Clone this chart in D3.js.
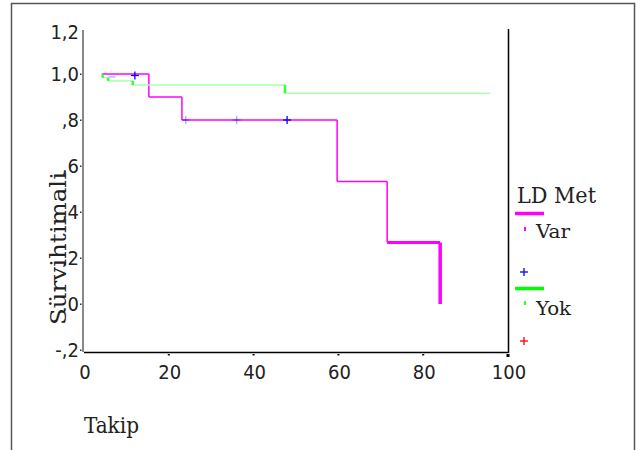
<!DOCTYPE html>
<html>
<head>
<meta charset="utf-8">
<script src="https://cdn.jsdelivr.net/npm/d3@7"></script>
<style>
  body { margin: 0; background: #fff; }
  svg { display: block; }
  .tick-label { font-family: "Liberation Sans Narrow", "DejaVu Sans Condensed", "Liberation Sans", sans-serif; font-size: 20px; fill: #222; }
  .mono { font-family: "DejaVu Serif Condensed", "DejaVu Serif", "Liberation Serif", serif; font-weight: 300; fill: #222; }
</style>
</head>
<body>
<div id="body"></div>
<script>
// data
var xTicks = [0, 20, 40, 60, 80, 100];
var yTicks = [1.2, 1.0, 0.8, 0.6, 0.4, 0.2, 0.0, -0.2];
var yTickLabels = ['1,2', '1,0', ',8', ',6', ',4', ',2', ',0', '-,2'];

// LD Met = Var (steps: time, survival)
var varTimes = [4.2, 15.3, 23.1, 59.7, 71.5, 84.0];
var varSurv = [1.0, 0.9, 0.8, 0.533, 0.267, 0.0];
var varCensor = [12, 24, 36, 47.9];
var varCensorSurv = [1.0, 0.8, 0.8, 0.8];

// LD Met = Yok
var yokTimes = [4.4, 4.4, 5.7, 11.5, 47.4];
var yokSurv = [0.996, 0.984, 0.97, 0.952, 0.916];
var yokEnd = 95.8;
var yokCensor = [6.0];
var yokCensorSurv = [0.996];

var width = 642, height = 450;
var x = d3.scaleLinear().domain([0, 100]).range([84, 508]);
var y = d3.scaleLinear().domain([-0.2, 1.2]).range([350, 28]);

var svg = d3.select('#body').append('svg')
    .attr('width', width)
    .attr('height', height);

// outer frame
svg.append('rect')
    .attr('x', 11.5).attr('y', 3.5)
    .attr('width', 623).attr('height', 460)
    .attr('fill', 'none')
    .attr('stroke', '#555')
    .attr('stroke-width', 1.5);

// y axis
svg.append('line')
    .attr('x1', 83).attr('x2', 83)
    .attr('y1', 30).attr('y2', 352)
    .attr('stroke', '#888').attr('stroke-width', 2);

svg.selectAll('rect.ytick')
    .data(yTicks.slice(1))
    .enter().append('rect')
    .attr('class', 'ytick')
    .attr('x', 80).attr('y', d => y(d) - 0.5)
    .attr('width', 1.5).attr('height', 1.5)
    .attr('fill', '#333');

svg.selectAll('text.ylab')
    .data(yTicks)
    .enter().append('text')
    .attr('class', 'tick-label ylab')
    .attr('x', 79)
    .attr('y', (d, i) => i === 0 ? y(d) + 11 : y(d) + 7)
    .attr('text-anchor', 'end')
    .text((d, i) => yTickLabels[i]);

// x axis
svg.append('line')
    .attr('x1', 84).attr('x2', 508)
    .attr('y1', 352.5).attr('y2', 352.5)
    .attr('stroke', '#000').attr('stroke-width', 1.5);

// right vertical line
svg.append('line')
    .attr('x1', 508.5).attr('x2', 508.5)
    .attr('y1', 29).attr('y2', 353)
    .attr('stroke', '#000').attr('stroke-width', 1.5);

svg.selectAll('rect.xtick')
    .data(xTicks.slice(1))
    .enter().append('rect')
    .attr('class', 'xtick')
    .attr('x', d => x(d) - (d === 100 ? 1.5 : 1))
    .attr('y', 354)
    .attr('width', d => d === 100 ? 3 : 2)
    .attr('height', d => d === 100 ? 3 : 1.5)
    .attr('fill', '#000');

svg.selectAll('text.xlab')
    .data(xTicks)
    .enter().append('text')
    .attr('class', 'tick-label xlab')
    .attr('x', d => x(d) + 1)
    .attr('y', 379)
    .attr('text-anchor', 'middle')
    .text(d => d);

// axis titles
svg.append('text')
    .attr('class', 'mono')
    .attr('x', 84).attr('y', 433)
    .attr('font-size', 22)
    .attr('textLength', 55)
    .attr('lengthAdjust', 'spacingAndGlyphs')
    .text('Takip');

svg.append('text')
    .attr('class', 'mono')
    .attr('transform', 'translate(66,325) rotate(-90)')
    .attr('font-size', 22)
    .attr('textLength', 153)
    .attr('lengthAdjust', 'spacingAndGlyphs')
    .text('Sürvihtimali');

// step curves
function steps(times, surv, end) {
    let h = [], v = [];
    for (let i = 0; i < times.length; i++) {
        let x0 = times[i];
        let x1 = i + 1 < times.length ? times[i + 1] : end;
        if (x1 !== undefined && x1 > x0) h.push({x0: x0, x1: x1, s: surv[i], i: i});
        if (i + 1 < surv.length && i + 1 < times.length) v.push({t: times[i + 1], s0: surv[i], s1: surv[i + 1], i: i});
    }
    return {h: h, v: v};
}

// Var
let varSteps = steps(varTimes, varSurv);
let last = varTimes.length - 1;
svg.selectAll('line.varH')
    .data(varSteps.h)
    .enter().append('line')
    .attr('class', 'varH')
    .attr('x1', d => x(d.x0)).attr('x2', d => x(d.x1))
    .attr('y1', d => y(d.s)).attr('y2', d => y(d.s))
    .attr('stroke', '#ff00ff')
    .attr('stroke-width', d => d.i === last - 1 ? 3 : 1.5);
svg.selectAll('line.varV')
    .data(varSteps.v)
    .enter().append('line')
    .attr('class', 'varV')
    .attr('x1', d => x(d.t)).attr('x2', d => x(d.t))
    .attr('y1', d => y(d.s0)).attr('y2', d => y(d.s1))
    .attr('stroke', '#ff00ff')
    .attr('stroke-width', d => d.i === last - 1 ? 3.5 : 1.5);

// Yok
let yokSteps = steps(yokTimes, yokSurv, yokEnd);
svg.selectAll('line.yokH')
    .data(yokSteps.h)
    .enter().append('line')
    .attr('class', 'yokH')
    .attr('x1', d => x(d.x0)).attr('x2', d => x(d.x1))
    .attr('y1', d => y(d.s)).attr('y2', d => y(d.s))
    .attr('stroke', '#aaffaa')
    .attr('stroke-width', 1.5);
svg.selectAll('line.yokV')
    .data(yokSteps.v)
    .enter().append('line')
    .attr('class', 'yokV')
    .attr('x1', d => x(d.t)).attr('x2', d => x(d.t))
    .attr('y1', d => y(d.s0) - (d.i === 0 ? 1 : 0)).attr('y2', d => y(d.s1))
    .attr('stroke', '#33ff33')
    .attr('stroke-width', 2.5);

// censor marks
function plus(g, cx, cy, color, size, opacity) {
    g.append('line').attr('x1', cx - size).attr('x2', cx + size).attr('y1', cy).attr('y2', cy)
        .attr('stroke', color).attr('stroke-width', 1.3).attr('opacity', opacity);
    g.append('line').attr('x1', cx).attr('x2', cx).attr('y1', cy - size).attr('y2', cy + size)
        .attr('stroke', color).attr('stroke-width', 1.3).attr('opacity', opacity);
}
let cg = svg.append('g');
varCensor.forEach((t, i) => {
    let faint = i === 1 || i === 2;
    plus(cg, x(t), y(varCensorSurv[i]) + (i === 0 ? 1.5 : 0), '#0000ff', 4, faint ? 0.35 : 1);
});
yokCensor.forEach((t, i) => {
    cg.append('line')
        .attr('x1', x(t) - 1).attr('x2', x(t) + 6)
        .attr('y1', y(yokCensorSurv[i]) + 2).attr('y2', y(yokCensorSurv[i]) + 2)
        .attr('stroke', '#aaaaff').attr('stroke-width', 1.3);
});

// legend
let lg = svg.append('g');
lg.append('text').attr('class', 'mono')
    .attr('x', 517).attr('y', 203)
    .attr('font-size', 22)
    .attr('textLength', 79).attr('lengthAdjust', 'spacingAndGlyphs')
    .text('LD Met');
lg.append('line').attr('x1', 515).attr('x2', 544).attr('y1', 213.5).attr('y2', 213.5)
    .attr('stroke', '#ff00ff').attr('stroke-width', 3.5);
lg.append('line').attr('x1', 525).attr('x2', 525).attr('y1', 227).attr('y2', 231)
    .attr('stroke', '#ff00ff').attr('stroke-width', 2);
lg.append('text').attr('class', 'mono')
    .attr('x', 536).attr('y', 238).attr('font-size', 18)
    .attr('textLength', 34).attr('lengthAdjust', 'spacingAndGlyphs')
    .text('Var');
plus(lg, 524, 272, '#0000ff', 4, 1);
lg.append('line').attr('x1', 515).attr('x2', 544).attr('y1', 288.5).attr('y2', 288.5)
    .attr('stroke', '#00ff00').attr('stroke-width', 3.5);
lg.append('line').attr('x1', 525).attr('x2', 525).attr('y1', 301).attr('y2', 305)
    .attr('stroke', '#33ff33').attr('stroke-width', 2);
lg.append('text').attr('class', 'mono')
    .attr('x', 536).attr('y', 315).attr('font-size', 18)
    .attr('textLength', 35).attr('lengthAdjust', 'spacingAndGlyphs')
    .text('Yok');
plus(lg, 524, 341, '#ff0000', 4, 1);
</script>
</body>
</html>
